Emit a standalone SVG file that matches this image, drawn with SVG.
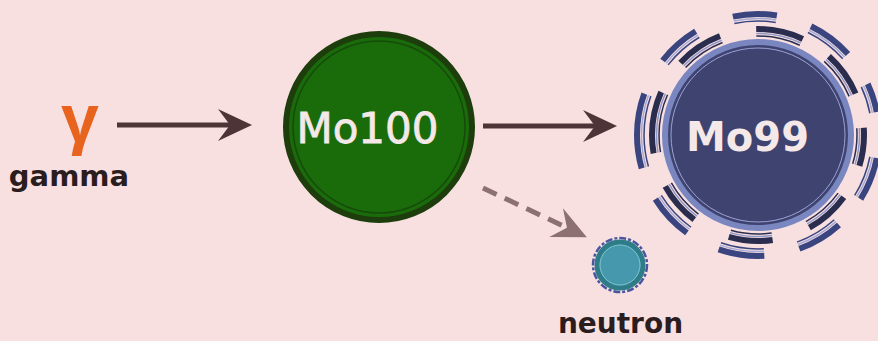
<svg xmlns="http://www.w3.org/2000/svg" width="878" height="341" viewBox="0 0 878 341">
<defs>
<style>
.lbl{font-family:"DejaVu Sans",Verdana,sans-serif;font-weight:bold;fill:#2b1d1e;text-anchor:middle}
.core{font-family:"DejaVu Sans",Verdana,sans-serif;fill:#f4e8e8;text-anchor:middle}
.conn{fill:none;stroke-width:5}
</style>
<marker id="ah" markerUnits="userSpaceOnUse" viewBox="-25 -20 40 40" markerWidth="40" markerHeight="40" refX="0" refY="0" orient="auto">
<path d="M12,0 L-22,-16 L-10,0 L-22,16 Z" fill="#4d3537"/>
</marker>
<marker id="ahd" markerUnits="userSpaceOnUse" viewBox="-25 -20 40 40" markerWidth="40" markerHeight="40" refX="0" refY="0" orient="auto">
<path d="M12,0 L-22,-16 L-10,0 L-22,16 Z" fill="#8c7072"/>
</marker>
</defs>
<rect width="878" height="341" fill="#f8e0e1"/>
<g id="connectors">
<line class="conn" x1="117" y1="125" x2="240" y2="125" stroke="#4d3537" marker-end="url(#ah)"/>
<line class="conn" x1="483" y1="126" x2="605" y2="126" stroke="#4d3537" marker-end="url(#ah)"/>
<line class="conn" x1="483" y1="188" x2="576" y2="232" stroke="#8c7072" stroke-dasharray="15 9" marker-end="url(#ahd)"/>
</g>
<g id="gamma">
<text x="80" y="142" font-family="Liberation Sans,Arial,sans-serif" font-weight="bold" font-size="68" fill="#e8641e" text-anchor="middle">γ</text>
<text class="lbl" x="69" y="186" font-size="29">gamma</text>
</g>
<g id="Mo100">
<circle cx="379" cy="127" r="93" fill="#1a6c0a" stroke="#1d3d0c" stroke-width="6"/>
<circle cx="379" cy="127" r="86" fill="none" stroke="#164a0b" stroke-width="1.5"/>
<text class="core" x="367.5" y="143" font-size="42" stroke="#f4e8e8" stroke-width="0.8">Mo100</text>
</g>
<g id="Mo99">
<circle cx="758" cy="135" r="121" fill="none" stroke="#3a4580" stroke-width="6" pathLength="360" stroke-dasharray="0 11 21 16 22 17 22 17 22 16 36 18 21 19 21 17 22 17 14 11"/>
<circle cx="758" cy="135" r="116.5" fill="none" stroke="#a4aad4" stroke-width="1.5" pathLength="360" stroke-dasharray="0 11 21 16 22 17 22 17 22 16 36 18 21 19 21 17 22 17 14 11"/>
<circle cx="758" cy="135" r="114" fill="none" stroke="#3a4580" stroke-width="1.5" pathLength="360" stroke-dasharray="0 11 21 16 22 17 22 17 22 16 36 18 21 19 21 17 22 17 14 11"/>
<circle cx="758" cy="135" r="106" fill="none" stroke="#2b2d4f" stroke-width="6" pathLength="360" stroke-dasharray="17 19 25 21 24 21 24 19 34 19 26 20 26 17 25 19 4 0"/>
<circle cx="758" cy="135" r="101.5" fill="none" stroke="#8e96c6" stroke-width="1.5" pathLength="360" stroke-dasharray="17 19 25 21 24 21 24 19 34 19 26 20 26 17 25 19 4 0"/>
<circle cx="758" cy="135" r="99" fill="none" stroke="#2b2d4f" stroke-width="1.5" pathLength="360" stroke-dasharray="17 19 25 21 24 21 24 19 34 19 26 20 26 17 25 19 4 0"/>
<circle cx="758" cy="135" r="93" fill="#3f4370" stroke="#7a86c0" stroke-width="6"/>
<circle cx="758" cy="135" r="87" fill="none" stroke="#9aa2d4" stroke-width="1"/>
<text class="core" x="747.5" y="151" font-size="40" font-weight="bold">Mo99</text>
</g>
<g id="neutron">
<circle cx="620" cy="265" r="27" fill="none" stroke="#4a55a0" stroke-width="2.5" stroke-dasharray="7 2 3 2"/>
<circle cx="620" cy="265" r="23" fill="#4699ad" stroke="#2e7c88" stroke-width="5"/>
<circle cx="620" cy="265" r="20" fill="none" stroke="#7cc0cc" stroke-width="1"/>
<text class="lbl" x="620.5" y="333" font-size="28">neutron</text>
</g>
</svg>
